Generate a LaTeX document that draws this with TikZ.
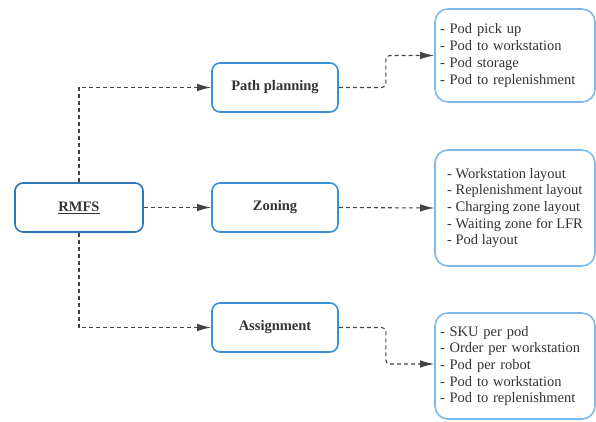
\documentclass[tikz,border=0pt]{standalone}
\usepackage{fontspec}
\setmainfont{Liberation Serif}
\usetikzlibrary{arrows.meta, positioning}
\definecolor{rootblue}{HTML}{2E75B6}
\definecolor{midblue}{HTML}{3A8FDB}
\definecolor{leafblue}{HTML}{7DB9EC}
\definecolor{txtgray}{HTML}{333333}
\definecolor{linegray}{HTML}{444444}

\begin{document}
\begin{tikzpicture}[
        x=1pt, y=-1pt,
        root/.style={rectangle, draw=rootblue, line width=1.6pt, rounded corners=8pt, fill=white, minimum width=128pt, minimum height=49pt, font=\fontsize{14.5}{16}\selectfont\bfseries, text=txtgray},
        task/.style={rectangle, draw=midblue, line width=1.6pt, rounded corners=8pt, fill=white, minimum width=126pt, minimum height=49pt, font=\fontsize{14.5}{16}\selectfont\bfseries, text=txtgray},
        leaf/.style={rectangle, draw=leafblue, line width=1.6pt, rounded corners=13pt, fill=white, minimum width=160pt, align=left, inner xsep=5pt, font=\fontsize{14.5}{16.7}\selectfont, text=txtgray},
        link/.style={-{Latex[length=14pt, width=7.5pt]}, linegray, line width=1.1pt, dash pattern=on 4pt off 3pt}
    ]
        \useasboundingbox (0,0) rectangle (596,421);

        % Root
        \node[root] (rmfs) at (79, 207.5) {\underline{RMFS}};

        % Problem classes
        \node[task] (path) at (275, 87.5) {Path planning};
        \node[task] (zone) at (275, 207.5) {Zoning};
        \node[task] (assign) at (275, 327.5) {Assignment};

        % Decisions
        \node[leaf, minimum height=93pt, text width=150pt] (d1) at (515, 55.5) {- Pod pick up\\- Pod to workstation\\- Pod storage\\- Pod to replenishment};
        \node[leaf, minimum height=116pt] (d2) at (515, 208) {- Workstation layout\\- Replenishment layout\\- Charging zone layout\\- Waiting zone for LFR\\- Pod layout};
        \node[leaf, minimum height=106pt, text width=150pt] (d3) at (515, 366) {- SKU per pod\\- Order per workstation\\- Pod per robot\\- Pod to workstation\\- Pod to replenishment};

        % Root to classes
        \draw[link] (rmfs.north) |- (path.west);
        \draw[link] (rmfs.east) -- (zone.west);
        \draw[link] (rmfs.south) |- (assign.west);

        % Classes to decisions
        \draw[link, rounded corners=4pt] (path.east) -- ++(47,0) |- (d1.west);
        \draw[link] (zone.east) -- (d2.west);
        \draw[link, rounded corners=4pt] (assign.east) -- ++(47,0) |- ([yshift=2pt]d3.west);
    \end{tikzpicture}
\end{document}
